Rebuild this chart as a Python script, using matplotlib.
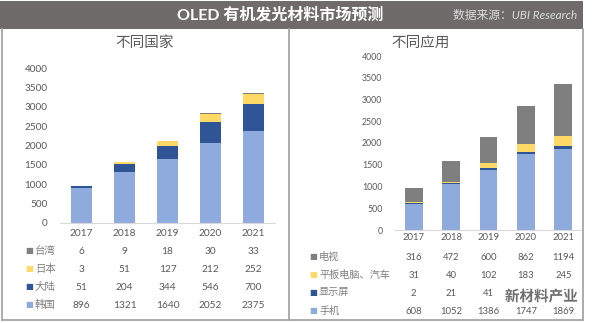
import matplotlib
matplotlib.use("Agg")
import matplotlib.pyplot as plt
from matplotlib.patches import Rectangle
from matplotlib.lines import Line2D
import matplotlib.patheffects as pe
import numpy as np

plt.rcParams['font.family'] = ['Lato', 'Noto Sans CJK SC', 'DejaVu Sans']

years = ["2017", "2018", "2019", "2020", "2021"]

# Left: by region (bottom -> top)
region_names = ["韩国", "大陆", "日本", "台湾"]
korea = [896, 1321, 1640, 2052, 2375]
mainland = [51, 204, 344, 546, 700]
japan = [3, 51, 127, 212, 252]
taiwan = [6, 9, 18, 30, 33]

# Right: by application (bottom -> top)
app_names = ["手机", "显示屏", "平板电脑、汽车", "电视"]
phone = [608, 1052, 1386, 1747, 1869]
monitor = [2, 21, 41, 48, 52]
tablet_auto = [31, 40, 102, 183, 245]
tv = [316, 472, 600, 862, 1194]

colors = ["#8faadc", "#2f5597", "#ffd966", "#7f7f7f"]

W, H = 596, 323
fig = plt.figure(figsize=(W / 100, H / 100), dpi=100)
fig.patch.set_facecolor("white")

def fx(px):
    return px / W

def fy(py):
    return 1 - py / H

# Title bar
fig.patches.append(Rectangle((fx(0), fy(29)), fx(583), 28 / H, transform=fig.transFigure,
                             facecolor="#6f6b6b", edgecolor="none", zorder=0))
fig.text(fx(280), fy(15), "OLED 有机发光材料市场预测", color="white", fontsize=11.5,
         fontweight="bold", ha="center", va="center")
fig.text(fx(577), fy(15), "数据来源：UBI Research", color="#dcdcdc", fontsize=8.5,
         style="italic", ha="right", va="center")

# Frame lines
frame_col = "#a6a6a6"
for (x0, y0, x1, y1) in [(1.5, 29, 1.5, 320), (289, 29, 289, 320), (583, 29, 583, 320), (1.5, 320, 583, 320)]:
    fig.lines.append(Line2D([fx(x0), fx(x1)], [fy(y0), fy(y1)], transform=fig.transFigure,
                            color=frame_col, lw=1.3))

def panel(rect, series, names, title, title_xy, tick_fs, tick_pad, year_y, row_ys,
          marker_x, label_x, val_fs, label_fs, width):
    left, top, right, bottom = rect
    ax = fig.add_axes([fx(left), fy(bottom), fx(right) - fx(left), (bottom - top) / H])
    x = np.arange(len(years))
    base = np.zeros(len(years))
    for vals, c in zip(series, colors):
        ax.bar(x, vals, width, bottom=base, color=c, edgecolor="none")
        base += np.array(vals)
    ax.set_xlim(-0.5, 4.5)
    ax.set_ylim(0, 4000)
    ax.set_yticks(np.arange(0, 4001, 500))
    ax.tick_params(axis="y", length=0, labelsize=tick_fs, labelcolor="#595959", pad=tick_pad)
    ax.set_xticks([])
    for s in ["top", "right", "left"]:
        ax.spines[s].set_visible(False)
    ax.spines["bottom"].set_color("#d9d9d9")
    ax.spines["bottom"].set_linewidth(0.8)
    tr = ax.get_xaxis_transform()
    ax_h = bottom - top
    def ay(py):
        return -(py - bottom) / ax_h
    for i, yr in enumerate(years):
        ax.text(i, ay(year_y), yr, transform=tr, ha="center", va="center",
                fontsize=val_fs, color="#595959", clip_on=False)
    # table rows: top row is top series
    for r, idx in enumerate(reversed(range(len(series)))):
        py = row_ys[r]
        vals = series[idx]
        for i, v in enumerate(vals):
            ax.text(i, ay(py), str(v), transform=tr, ha="center", va="center",
                    fontsize=val_fs, color="#595959", clip_on=False)
        fig.text(fx(marker_x), fy(py), "■", color=colors[idx], fontsize=6,
                 ha="center", va="center", family=["DejaVu Sans"])
        fig.text(fx(label_x), fy(py), names[idx], color="#7f7f7f", fontsize=label_fs,
                 ha="left", va="center")
    fig.text(fx(title_xy[0]), fy(title_xy[1]), title, color="#595959", fontsize=10.5,
             ha="center", va="center")
    return ax

panel((60, 68, 275, 223), [korea, mainland, japan, taiwan], region_names, "不同国家",
      (145, 43), 7.2, 9, 233, [251, 269, 287, 305], 29, 35, 7.3, 7.5, 0.47)
panel((395, 56, 582, 230), [phone, monitor, tablet_auto, tv], app_names, "不同应用",
      (421, 43), 6.3, 9, 238, [257, 275, 293, 311], 313, 319, 6.8, 7.3, 0.48)

# Watermark (covers part of the table, as in the source image)
wm = fig.text(fx(578), fy(297), "新材料产业", color="#6e6e6e", fontsize=10.5,
              ha="right", va="center", fontweight="bold", zorder=10)
wm.set_path_effects([pe.withStroke(linewidth=2.5, foreground="white")])

fig.savefig("out.png", dpi=100)
